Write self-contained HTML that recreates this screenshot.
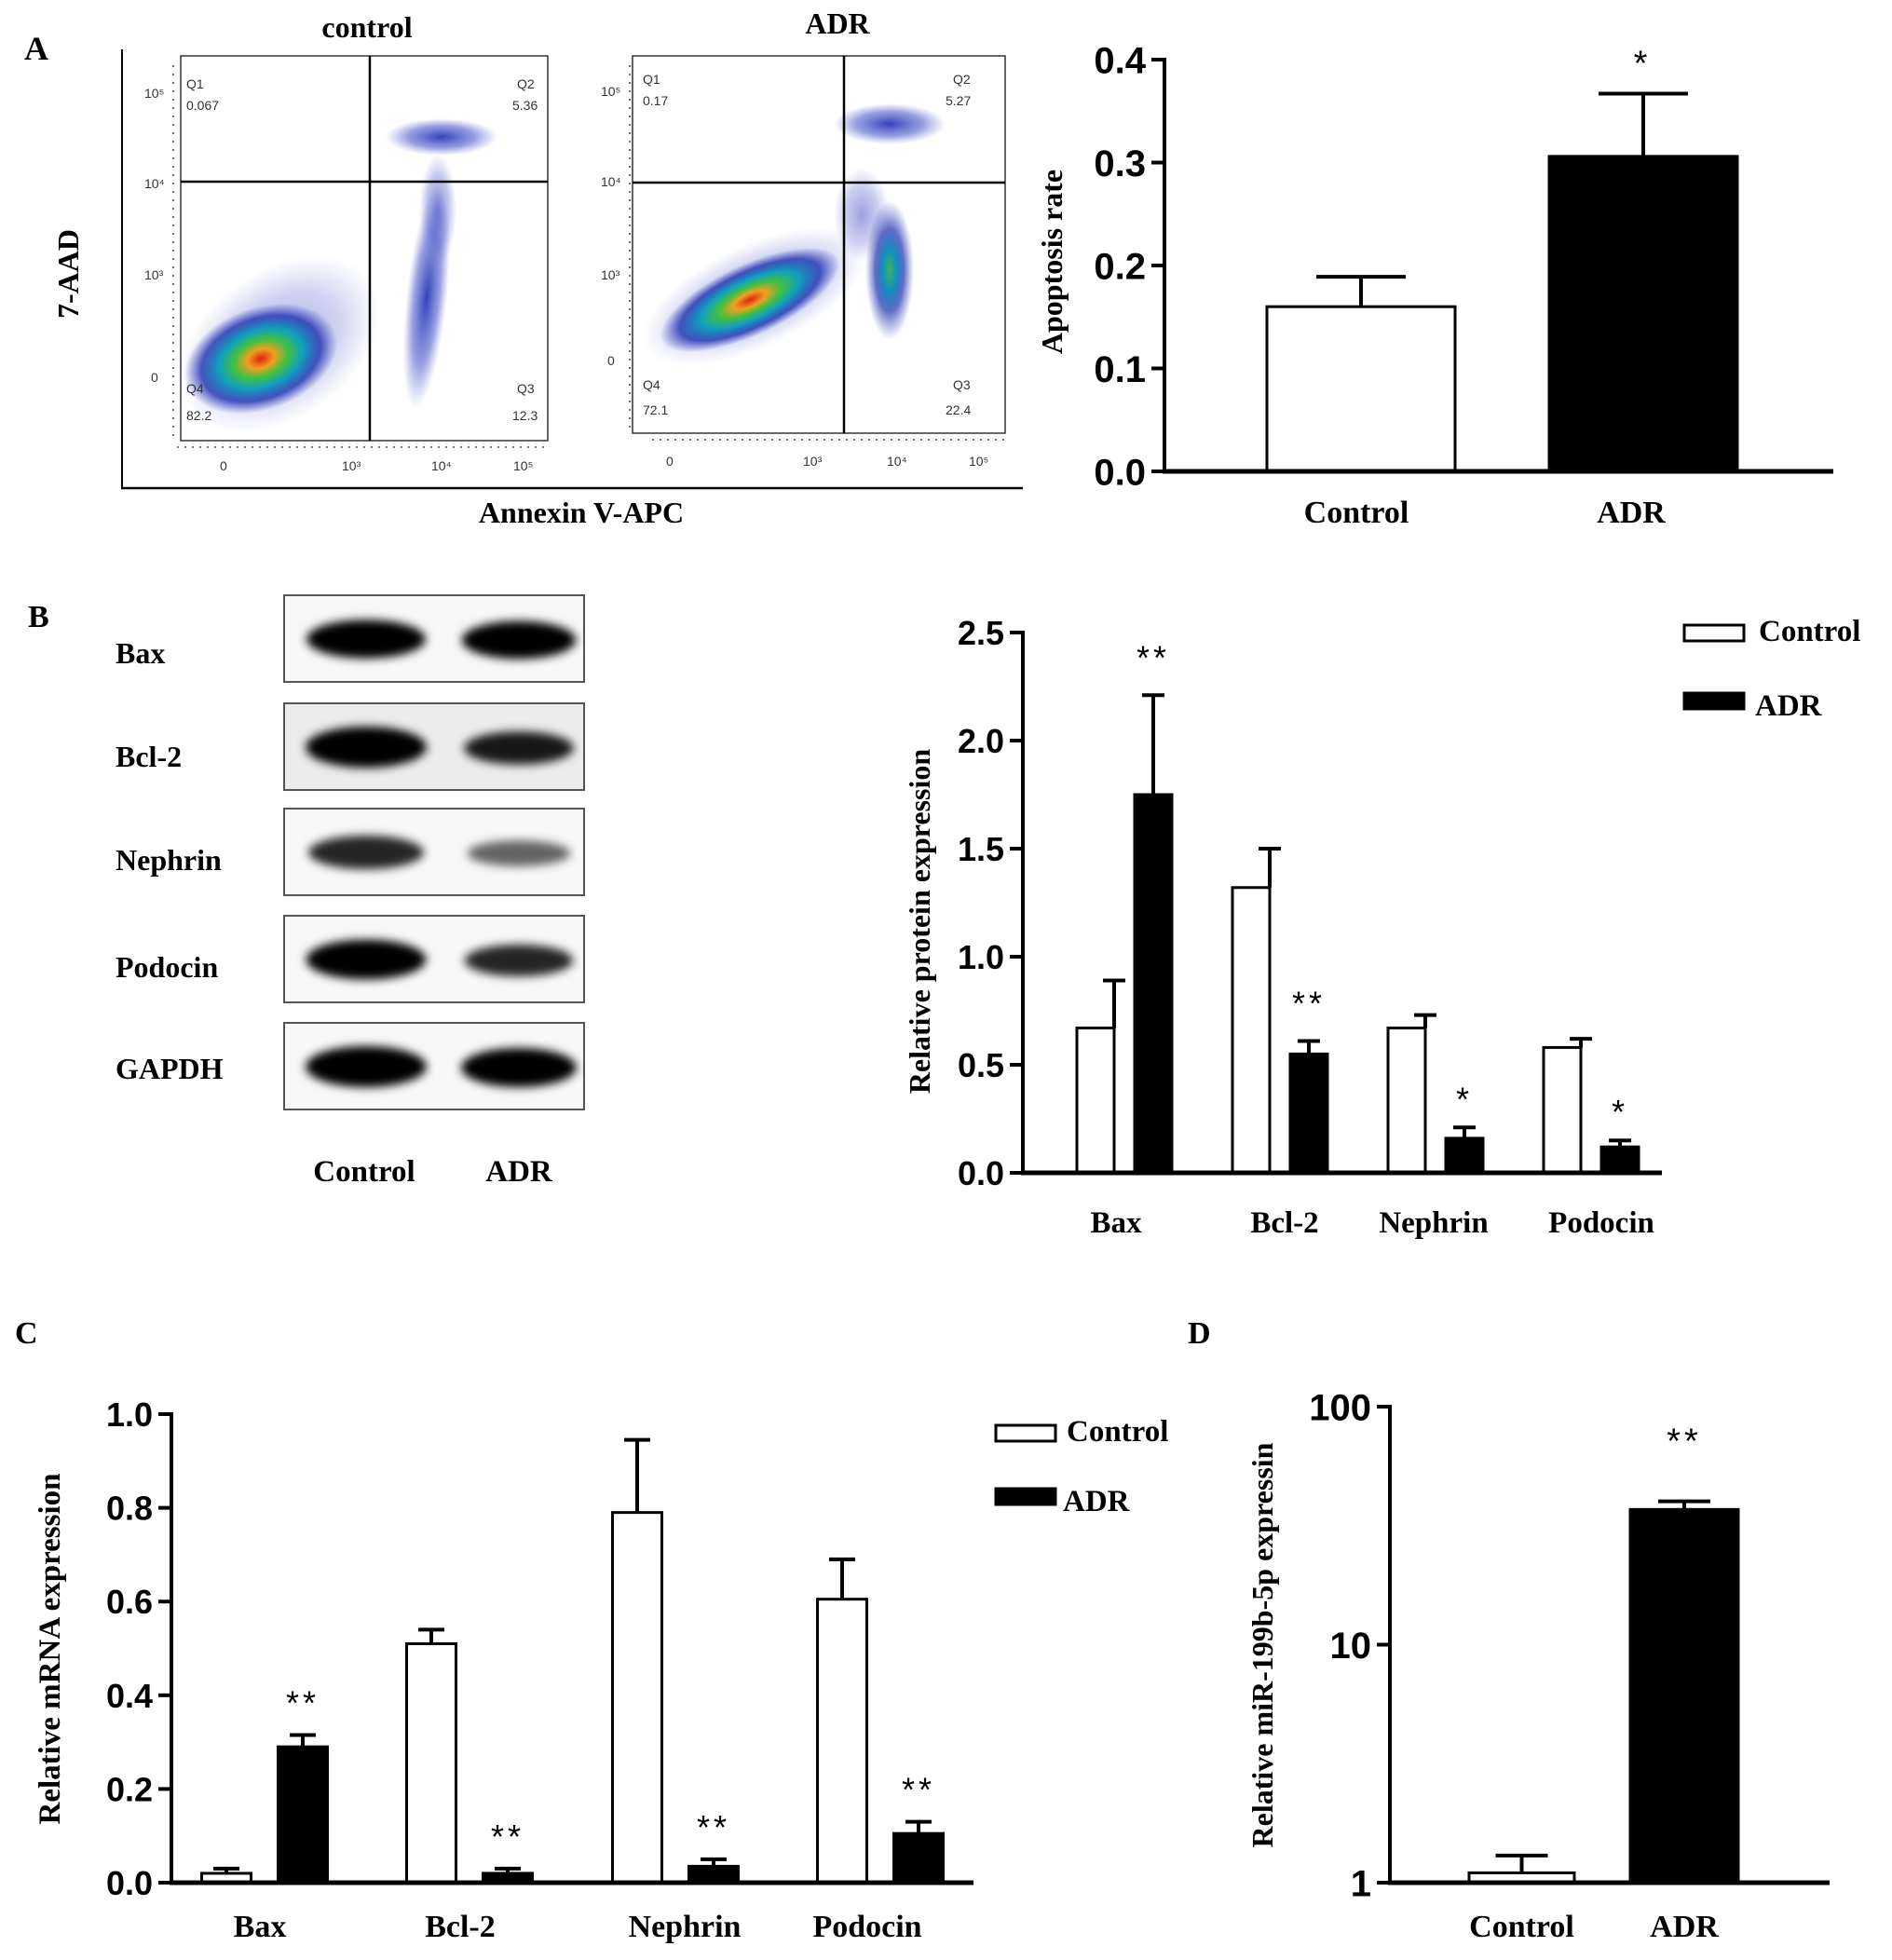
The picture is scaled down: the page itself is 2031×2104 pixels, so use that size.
<!DOCTYPE html>
<html><head><meta charset="utf-8"><style>
html,body{margin:0;padding:0;background:#fff}
svg{display:block}
.sans{font-family:"Liberation Sans",sans-serif;font-weight:bold}
.serif{font-family:"Liberation Serif",serif;font-weight:bold}
</style></head><body>
<svg id="fig" width="2031" height="2104" viewBox="0 0 2031 2104" xmlns="http://www.w3.org/2000/svg">
<defs>
<radialGradient id="dens" cx="50%" cy="50%" r="50%">
<stop offset="0" stop-color="#e02010"/><stop offset="0.18" stop-color="#f0a020"/><stop offset="0.35" stop-color="#40c040"/><stop offset="0.55" stop-color="#10a0c0"/><stop offset="0.78" stop-color="#2030b0" stop-opacity="0.8"/><stop offset="1" stop-color="#3040c0" stop-opacity="0"/>
</radialGradient>
<radialGradient id="blue" cx="50%" cy="50%" r="50%">
<stop offset="0" stop-color="#1020b0" stop-opacity="0.85"/><stop offset="0.6" stop-color="#3040c0" stop-opacity="0.5"/><stop offset="1" stop-color="#5060d0" stop-opacity="0"/>
</radialGradient>
<radialGradient id="bluegreen" cx="50%" cy="50%" r="50%">
<stop offset="0" stop-color="#40b060"/><stop offset="0.3" stop-color="#1090c0"/><stop offset="0.6" stop-color="#2030b0" stop-opacity="0.7"/><stop offset="1" stop-color="#4050c0" stop-opacity="0"/>
</radialGradient>
<filter id="blur" x="-20%" y="-50%" width="140%" height="200%"><feGaussianBlur stdDeviation="5"/></filter>
</defs>

<g>
<text class="serif" x="26" y="64" font-size="36">A</text>
<text class="serif" x="394" y="40" font-size="32" text-anchor="middle">control</text>
<text class="serif" x="899" y="36" font-size="32" text-anchor="middle">ADR</text>
<line x1="131" y1="53" x2="131" y2="525" stroke="#000" stroke-width="2"/>
<line x1="130" y1="524" x2="1098" y2="524" stroke="#000" stroke-width="2.5"/>
<text class="serif" transform="translate(84,294) rotate(-90)" font-size="32" text-anchor="middle">7-AAD</text>
<text class="serif" x="624" y="561" font-size="32" text-anchor="middle">Annexin V-APC</text>

<g>
<clipPath id="c1"><rect x="194" y="60" width="394" height="413"/></clipPath>
<g clip-path="url(#c1)">
<ellipse cx="300" cy="370" rx="120" ry="80" fill="url(#blue)" opacity="0.45" transform="rotate(-35 300 370)"/>
<ellipse cx="280" cy="385" rx="85" ry="55" fill="url(#dens)" transform="rotate(-20 280 385)"/>
<ellipse cx="458" cy="320" rx="22" ry="120" fill="url(#blue)" transform="rotate(6 458 320)"/>
<ellipse cx="470" cy="225" rx="20" ry="60" fill="url(#blue)" opacity="0.6"/>
<ellipse cx="474" cy="147" rx="60" ry="20" fill="url(#blue)"/>
</g>
<rect x="194" y="60" width="394" height="413" fill="none" stroke="#333" stroke-width="1.5"/>
<line x1="397" y1="60" x2="397" y2="473" stroke="#000" stroke-width="2.5"/>
<line x1="194" y1="195" x2="588" y2="195" stroke="#000" stroke-width="2.5"/>
<g font-family="Liberation Sans,sans-serif" font-size="14" fill="#333">
<text x="200" y="95">Q1</text><text x="200" y="118">0.067</text>
<text x="555" y="95">Q2</text><text x="550" y="118">5.36</text>
<text x="200" y="422">Q4</text><text x="200" y="451">82.2</text>
<text x="555" y="422">Q3</text><text x="550" y="451">12.3</text>
<text x="155" y="105">10⁵</text><text x="155" y="202">10⁴</text><text x="155" y="300">10³</text><text x="162" y="410">0</text>
<text x="236" y="505">0</text><text x="367" y="505">10³</text><text x="463" y="505">10⁴</text><text x="551" y="505">10⁵</text>
</g>
<line x1="190" y1="480" x2="588" y2="480" stroke="#444" stroke-width="1.5" stroke-dasharray="2 6"/>
<line x1="186" y1="70" x2="186" y2="470" stroke="#444" stroke-width="1.5" stroke-dasharray="2 7"/>
</g>

<g>
<clipPath id="c2"><rect x="679" y="60" width="400" height="405"/></clipPath>
<g clip-path="url(#c2)">
<ellipse cx="810" cy="318" rx="130" ry="55" fill="url(#blue)" opacity="0.5" transform="rotate(-25 810 318)"/>
<ellipse cx="805" cy="322" rx="105" ry="38" fill="url(#dens)" transform="rotate(-25 805 322)"/>
<ellipse cx="955" cy="290" rx="26" ry="75" fill="url(#bluegreen)"/>
<ellipse cx="925" cy="230" rx="30" ry="50" fill="url(#blue)" opacity="0.5"/>
<ellipse cx="955" cy="133" rx="60" ry="22" fill="url(#blue)"/>
</g>
<rect x="679" y="60" width="400" height="405" fill="none" stroke="#333" stroke-width="1.5"/>
<line x1="906" y1="60" x2="906" y2="465" stroke="#000" stroke-width="2.5"/>
<line x1="679" y1="196" x2="1079" y2="196" stroke="#000" stroke-width="2.5"/>
<g font-family="Liberation Sans,sans-serif" font-size="14" fill="#333">
<text x="690" y="90">Q1</text><text x="690" y="113">0.17</text>
<text x="1023" y="90">Q2</text><text x="1015" y="113">5.27</text>
<text x="690" y="418">Q4</text><text x="690" y="445">72.1</text>
<text x="1023" y="418">Q3</text><text x="1015" y="445">22.4</text>
<text x="645" y="103">10⁵</text><text x="645" y="200">10⁴</text><text x="645" y="300">10³</text><text x="652" y="392">0</text>
<text x="715" y="500">0</text><text x="862" y="500">10³</text><text x="952" y="500">10⁴</text><text x="1040" y="500">10⁵</text>
</g>
<line x1="700" y1="472" x2="1079" y2="472" stroke="#444" stroke-width="1.5" stroke-dasharray="2 6"/>
<line x1="676" y1="70" x2="676" y2="460" stroke="#444" stroke-width="1.5" stroke-dasharray="2 7"/>
</g>
</g>

<g>
<text class="serif" x="30" y="673" font-size="34">B</text>
<g id="blot"></g>
<text class="serif" x="391" y="1268" font-size="33" text-anchor="middle">Control</text>
<text class="serif" x="557" y="1268" font-size="33" text-anchor="middle">ADR</text>
</g>

<g id="chartA"></g>
<g id="chartB"></g>
<g id="chartC"></g>
<g id="chartD"></g>
<text class="serif" x="16" y="1442" font-size="34">C</text>
<text class="serif" x="1275" y="1442" font-size="34">D</text>
</svg>
<script>
const NS='http://www.w3.org/2000/svg';
function mk(parent,tag,attrs,text){const e=document.createElementNS(NS,tag);for(const k in attrs)e.setAttribute(k,attrs[k]);if(text!==undefined)e.textContent=text;parent.appendChild(e);return e;}

const blotRows=['Bax','Bcl-2','Nephrin','Podocin','GAPDH'];
const blotCtrl=[0.9,1.0,0.7,0.95,1.0];
const blotAdr=[0.95,0.75,0.45,0.7,1.0];
const aCats=['Control','ADR'];
const aVals=[0.16,0.306];
const aErr=[0.189,0.367];
const aTicks=['0.0','0.1','0.2','0.3','0.4'];
const bCats=['Bax','Bcl-2','Nephrin','Podocin'];
const bCtrl=[0.67,1.32,0.67,0.58];
const bCtrlErr=[0.89,1.50,0.73,0.62];
const bAdr=[1.75,0.55,0.16,0.12];
const bAdrErr=[2.21,0.61,0.21,0.15];
const bStars=['**','**','*','*'];
const bTicks=['0.0','0.5','1.0','1.5','2.0','2.5'];
const cCats=['Bax','Bcl-2','Nephrin','Podocin'];
const cCtrl=[0.02,0.51,0.79,0.605];
const cCtrlErr=[0.03,0.54,0.945,0.69];
const cAdr=[0.29,0.02,0.035,0.105];
const cAdrErr=[0.315,0.03,0.05,0.13];
const cStars=['**','**','**','**'];
const cTicks=['0.0','0.2','0.4','0.6','0.8','1.0'];
const dCats=['Control','ADR'];
const dVals=[1.1,37];
const dErr=[1.3,40];
const dTicks=['1','10','100'];

(function(){
  const g=document.getElementById('blot');
  const tops=[639,755,868,983,1098];
  const labY=[712,823,934,1049,1158];
  blotRows.forEach((r,i)=>{
    const t=tops[i];
    const box=mk(g,'rect',{x:305,y:t,width:322,height:93,fill:i==1?'#ececec':'#f8f8f8',stroke:'#555','stroke-width':2});
    
    
    const b1=mk(g,'ellipse',{cx:393,cy:t+47,rx:55+10*blotCtrl[i],ry:9+13*blotCtrl[i],fill:'#000','fill-opacity':Math.min(1,blotCtrl[i]+0.15),filter:'url(#blur)'});
    
    
    const b2=mk(g,'ellipse',{cx:557,cy:t+48,rx:50+12*blotAdr[i],ry:8+13*blotAdr[i],fill:'#000','fill-opacity':Math.min(1,blotAdr[i]+0.15),filter:'url(#blur)'});
    
    
    const l=mk(g,'text',{x:124,y:labY[i],'font-size':32,class:'serif'},r);
    
    
  });
})();

function axisY(g,x,y0,y1,ticks,pos,fs,name){
  const ax=mk(g,'line',{x1:x,y1:y0+2,x2:x,y2:y1-2,stroke:'#000','stroke-width':4});
  
  
  ticks.forEach((t,i)=>{
    const y=pos(i);
    mk(g,'line',{x1:x-14,y1:y,x2:x,y2:y,stroke:'#000','stroke-width':4});
    const tl=mk(g,'text',{x:x-20,y:y+fs*0.36,'font-size':fs,'text-anchor':'end',class:'sans'},t);
    
    
  });
}
function bar(g,x,w,yTop,yBase,filled,name){
  const r=mk(g,'rect',{x:x,y:yTop,width:w,height:yBase-yTop,fill:filled?'#000':'#fff',stroke:'#000','stroke-width':3});
  
  
}
function err(g,cx,yTop,yErr,cap,name){
  const p=mk(g,'path',{d:`M${cx},${yTop}V${yErr}M${cx-cap},${yErr}H${cx+cap}`,stroke:'#000','stroke-width':4,fill:'none'});
  
  
}
function star(g,cx,y,s,fs,name){
  const t=mk(g,'text',{x:cx,y:y,'font-size':fs,'text-anchor':'middle','font-family':'Liberation Sans,sans-serif','letter-spacing':4},s);
  
  
}
function legend(g,x,y1,y2,fs,tx){
  const a=mk(g,'rect',{x:x,y:y1,width:64,height:17,fill:'#fff',stroke:'#000','stroke-width':3});
  
  const at=mk(g,'text',{x:x+tx,y:y1+17,'font-size':fs,class:'serif'},'Control');
  
  const b=mk(g,'rect',{x:x,y:y2,width:64,height:17,fill:'#000',stroke:'#000','stroke-width':3});
  
  const bt=mk(g,'text',{x:x+tx-4,y:y2+24,'font-size':fs,class:'serif'},'ADR');
  
}

(function(){
  const g=document.getElementById('chartA');
  const X=1250,Y0=506,Y1=64,max=0.4;
  const y=v=>Y0-(v/max)*(Y0-Y1);
  axisY(g,X,Y0,Y1,aTicks,i=>y(i*0.1),40,'apoptosis');
  const xs=[1360,1663],w=202;
  const lx=[1456,1751];
  aCats.forEach((c,i)=>{
    err(g,xs[i]+w/2,y(aVals[i]),y(aErr[i]),48,'error-bar-'+c.toLowerCase());
    bar(g,xs[i],w,y(aVals[i]),Y0,i==1,'bar-'+c.toLowerCase());
    const l=mk(g,'text',{x:lx[i],y:Y0+55,'font-size':34,'text-anchor':'middle',class:'serif'},c);
    
  });
  star(g,1763,y(aErr[1])-20,'*',38,'significance-adr');
  const xa=mk(g,'line',{x1:X-2,y1:Y0,x2:1968,y2:Y0,stroke:'#000','stroke-width':5});
  
  const t=mk(g,'text',{transform:'translate(1140,281) rotate(-90)','font-size':32,'text-anchor':'middle',class:'serif'},'Apoptosis rate');
  
})();

(function(){
  const g=document.getElementById('chartB');
  const X=1098,Y0=1259,Y1=679,max=2.5;
  const y=v=>Y0-(v/max)*(Y0-Y1);
  axisY(g,X,Y0,Y1,bTicks,i=>y(i*0.5),36,'protein');
  const cx=[1176,1343,1510,1677],dx=62,w=40;
  const lx=[1198,1379,1539,1719];
  bCats.forEach((c,i)=>{
    const n=c.toLowerCase();
    err(g,cx[i]+w/2,y(bCtrl[i]),y(bCtrlErr[i]),12,'error-control-'+n);
    bar(g,cx[i]-20,w,y(bCtrl[i]),Y0,false,'bar-control-'+n);
    err(g,cx[i]+dx,y(bAdr[i]),y(bAdrErr[i]),12,'error-adr-'+n);
    bar(g,cx[i]+dx-20,w,y(bAdr[i]),Y0,true,'bar-adr-'+n);
    star(g,cx[i]+dx,y(bAdrErr[i])-(bStars[i]=='**'?28:18),bStars[i],36,'significance-'+n);
    const l=mk(g,'text',{x:lx[i],y:Y0+64,'font-size':33,'text-anchor':'middle',class:'serif'},c);
    
  });
  const xa=mk(g,'line',{x1:X-2,y1:Y0,x2:1784,y2:Y0,stroke:'#000','stroke-width':5});
  
  const t=mk(g,'text',{transform:'translate(998,989) rotate(-90)','font-size':32,'text-anchor':'middle',class:'serif'},'Relative protein expression');
  
  legend(g,1808,671,744,33,80);
})();

(function(){
  const g=document.getElementById('chartC');
  const X=184,Y0=2021,Y1=1518,max=1.0;
  const y=v=>Y0-(v/max)*(Y0-Y1);
  axisY(g,X,Y0,Y1,cTicks,i=>y(i*0.2),36,'mrna');
  const cx=[243,463,684,904],dx=82,w=53;
  const lx=[279,494,735,931];
  cCats.forEach((c,i)=>{
    const n=c.toLowerCase();
    err(g,cx[i],y(cCtrl[i]),y(cCtrlErr[i]),14,'error-control-'+n);
    bar(g,cx[i]-w/2,w,y(cCtrl[i]),Y0,false,'bar-control-'+n);
    err(g,cx[i]+dx,y(cAdr[i]),y(cAdrErr[i]),14,'error-adr-'+n);
    bar(g,cx[i]+dx-w/2,w,y(cAdr[i]),Y0,true,'bar-adr-'+n);
    star(g,cx[i]+dx,y(cAdrErr[i])-22,cStars[i],36,'significance-'+n);
    const l=mk(g,'text',{x:lx[i],y:Y0+58,'font-size':34,'text-anchor':'middle',class:'serif'},c);
    
  });
  const xa=mk(g,'line',{x1:X-2,y1:Y0,x2:1045,y2:Y0,stroke:'#000','stroke-width':5});
  
  const t=mk(g,'text',{transform:'translate(64,1770) rotate(-90)','font-size':33,'text-anchor':'middle',class:'serif'},'Relative mRNA expression');
  
  legend(g,1069,1530,1598,33,76);
})();

(function(){
  const g=document.getElementById('chartD');
  const X=1492,Y0=2021,Y1=1510;
  const y=v=>Y0-(Math.log10(v)/2)*(Y0-Y1);
  axisY(g,X,Y0,Y1,dTicks,i=>y(Math.pow(10,i)),40,'mir');
  const xs=[1577,1750],w=[113,116];
  dCats.forEach((c,i)=>{
    const cx=xs[i]+w[i]/2;
    err(g,cx,y(dVals[i]),y(dErr[i]),28,'error-bar-'+c.toLowerCase());
    bar(g,xs[i],w[i],y(dVals[i]),Y0,i==1,'bar-'+c.toLowerCase());
    const l=mk(g,'text',{x:cx,y:Y0+58,'font-size':34,'text-anchor':'middle',class:'serif'},c);
    
  });
  star(g,1808,y(dErr[1])-52,'**',38,'significance-adr');
  const xa=mk(g,'line',{x1:X-2,y1:Y0,x2:1964,y2:Y0,stroke:'#000','stroke-width':5});
  
  const t=mk(g,'text',{transform:'translate(1366,1766) rotate(-90)','font-size':32,'text-anchor':'middle',class:'serif'},'Relative miR-199b-5p expressin');
  
})();
</script>
</body></html>
